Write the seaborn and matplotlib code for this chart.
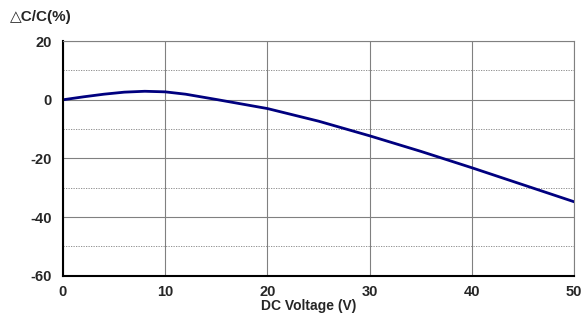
import matplotlib

matplotlib.use("Agg")
import matplotlib.pyplot as plt
import seaborn as sns
from matplotlib.ticker import MultipleLocator

voltage = [0, 2, 4, 6, 8, 10, 12, 15, 20, 25, 30, 35, 40, 45, 50]
cap_change = [0, 1.0, 1.9, 2.6, 2.9, 2.7, 1.9, 0.1, -3.0, -7.3, -12.3, -17.6, -23.2, -29.0, -34.8]
x_ticks = [0, 10, 20, 30, 40, 50]
y_ticks = [-60, -40, -20, 0, 20]


def main() -> None:
    sns.set_style("white")
    plt.rcParams["font.family"] = ["Liberation Sans", "DejaVu Sans"]
    plt.rcParams["axes.unicode_minus"] = False

    fig = plt.figure(figsize=(5.83, 3.14), dpi=100)
    ax = fig.add_axes([0.108, 0.122, 0.877, 0.747])

    sns.lineplot(x=voltage, y=cap_change, ax=ax, color="#00007f", linewidth=2.0)

    ax.set_xlim(0, 50)
    ax.set_ylim(-60, 20)
    ax.set_xticks(x_ticks)
    ax.set_yticks(y_ticks)
    ax.yaxis.set_minor_locator(MultipleLocator(10))
    ax.grid(which="major", color="#808080", linewidth=0.8, linestyle="-")
    ax.grid(which="minor", axis="y", color="#808080", linewidth=0.6, linestyle=(0, (1.5, 1.5)))
    ax.set_axisbelow(True)
    ax.tick_params(which="both", length=0, labelsize=10.5)
    ax.tick_params(axis="x", pad=7)
    ax.tick_params(axis="y", pad=8)
    for lab in ax.get_xticklabels() + ax.get_yticklabels():
        lab.set_fontweight("bold")

    for side in ["left", "bottom"]:
        ax.spines[side].set_color("black")
        ax.spines[side].set_linewidth(1.5)
    for side in ["top", "right"]:
        ax.spines[side].set_color("#808080")
        ax.spines[side].set_linewidth(0.8)

    ax.set_xlabel("")
    ax.set_ylabel("")
    fig.text(0.53, 0.002, "DC Voltage (V)", fontsize=10, fontweight="bold", va="bottom", ha="center")
    fig.text(0.017, 0.945, "△C/C(%)", fontsize=11, fontweight="bold", va="center", ha="left")

    fig.savefig("out.png", dpi=100)
    plt.close(fig)


if __name__ == "__main__":
    main()
